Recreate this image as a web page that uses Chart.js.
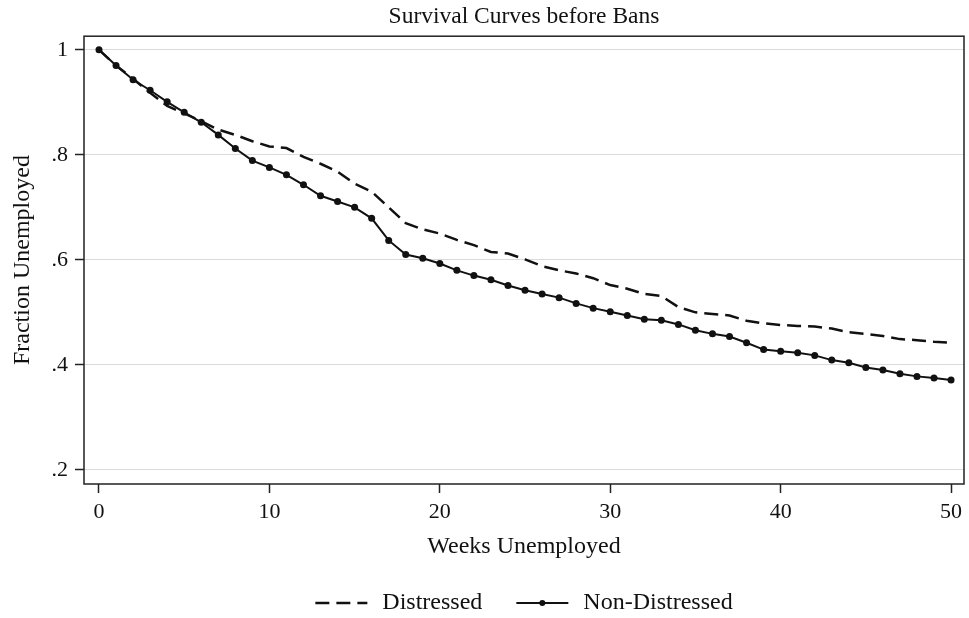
<!DOCTYPE html>
<html>
<head>
<meta charset="utf-8">
<title>Survival Curves before Bans</title>
<script src="https://cdn.jsdelivr.net/npm/chart.js@4"></script>
<style>
    html, body { margin: 0; padding: 0; background: #fff; overflow: hidden; }
    #wrap { width: 969px; height: 618px; }
</style>
</head>
<body>
<div id="wrap"><canvas id="survivalChart"></canvas></div>
<script>
// Weeks unemployed (x values)
const weeks = [0, 1, 2, 3, 4, 5, 6, 7, 8, 9, 10, 11, 12, 13, 14, 15, 16, 17, 18, 19, 20,
    21, 22, 23, 24, 25, 26, 27, 28, 29, 30, 31, 32, 33, 34, 35, 36, 37, 38, 39, 40,
    41, 42, 43, 44, 45, 46, 47, 48, 49, 50];

// Fraction still unemployed
const distressed = [1.000, 0.970, 0.945, 0.918, 0.893, 0.879, 0.864, 0.848, 0.838, 0.826, 0.816,
    0.813, 0.796, 0.783, 0.768, 0.745, 0.730, 0.700, 0.670, 0.658, 0.650,
    0.638, 0.628, 0.615, 0.612, 0.601, 0.588, 0.580, 0.574, 0.565, 0.552,
    0.545, 0.535, 0.531, 0.510, 0.500, 0.497, 0.494, 0.484, 0.479, 0.476,
    0.474, 0.473, 0.469, 0.462, 0.459, 0.455, 0.449, 0.447, 0.444, 0.442];

const nonDistressed = [1.000, 0.970, 0.943, 0.923, 0.901, 0.881, 0.862, 0.838, 0.812, 0.789, 0.776,
    0.762, 0.743, 0.722, 0.711, 0.700, 0.679, 0.637, 0.610, 0.603, 0.593,
    0.580, 0.570, 0.562, 0.551, 0.542, 0.535, 0.528, 0.517, 0.508, 0.501,
    0.494, 0.487, 0.485, 0.477, 0.466, 0.459, 0.454, 0.442, 0.429, 0.426,
    0.423, 0.418, 0.409, 0.404, 0.395, 0.390, 0.383, 0.378, 0.375, 0.371];

const xTicks = [0, 10, 20, 30, 40, 50];
const yTicks = [0.2, 0.4, 0.6, 0.8, 1];

const SERIF = '"Liberation Serif", "Times New Roman", serif';

function toPoints(values) {
    return weeks.map((w, i) => ({ x: w, y: values[i] }));
}

function yLabel(value) {
    if (value === 1) return '1';
    return value.toFixed(1).replace(/^0/, '');
}

// box round the plot region, Stata style
const framePlugin = {
    id: 'frame',
    beforeDatasetsDraw(chart) {
        const { ctx, chartArea } = chart;
        ctx.save();
        ctx.strokeStyle = '#222';
        ctx.lineWidth = 1.5;
        ctx.strokeRect(chartArea.left, chartArea.top,
            chartArea.right - chartArea.left, chartArea.bottom - chartArea.top);
        ctx.restore();
    }
};

// legend drawn by hand: line samples with text, centred under the plot
const lineLegendPlugin = {
    id: 'lineLegend',
    afterDraw(chart) {
        const { ctx, chartArea } = chart;
        const sampleLen = 52;
        const gap = 15;
        const spacing = 34;
        const y = 603;
        ctx.save();
        ctx.font = '24px ' + SERIF;
        ctx.textBaseline = 'middle';
        ctx.textAlign = 'left';
        const items = chart.data.datasets.map(ds => ({
            ds: ds,
            width: sampleLen + gap + ctx.measureText(ds.label).width
        }));
        const total = items.reduce((s, it) => s + it.width, 0) + spacing * (items.length - 1);
        let x = (chartArea.left + chartArea.right) / 2 - total / 2;
        items.forEach(it => {
            const ds = it.ds;
            ctx.strokeStyle = ds.borderColor;
            ctx.lineWidth = ds.borderWidth;
            ctx.setLineDash(ds.borderDash || []);
            ctx.beginPath();
            ctx.moveTo(x, y);
            ctx.lineTo(x + sampleLen, y);
            ctx.stroke();
            ctx.setLineDash([]);
            if (ds.pointRadius > 0) {
                ctx.fillStyle = ds.pointBackgroundColor;
                ctx.beginPath();
                ctx.arc(x + sampleLen / 2, y, ds.pointRadius - 0.5, 0, Math.PI * 2);
                ctx.fill();
            }
            ctx.fillStyle = '#111';
            ctx.fillText(ds.label, x + sampleLen + gap, y);
            x += it.width + spacing;
        });
        ctx.restore();
    }
};

const ctx = document.getElementById('survivalChart');

new Chart(ctx, {
    type: 'line',
    data: {
        datasets: [{
            label: 'Distressed',
            data: toPoints(distressed),
            borderColor: '#111',
            borderWidth: 2.5,
            borderDash: [14, 7],
            pointRadius: 0,
            pointBackgroundColor: '#111',
            tension: 0,
            fill: false
        }, {
            label: 'Non-Distressed',
            data: toPoints(nonDistressed),
            borderColor: '#111',
            borderWidth: 2,
            pointRadius: 3.5,
            pointBackgroundColor: '#111',
            pointBorderColor: '#111',
            pointBorderWidth: 0,
            tension: 0,
            fill: false
        }]
    },
    options: {
        responsive: true,
        maintainAspectRatio: false,
        animation: false,
        layout: {
            padding: { left: 0, right: 5, top: 0, bottom: 53 }
        },
        plugins: {
            legend: { display: false },
            tooltip: { enabled: false },
            title: {
                display: true,
                text: 'Survival Curves before Bans',
                fullSize: false,
                color: '#111',
                font: { family: SERIF, size: 23.5, weight: 'normal' },
                padding: { top: 3, bottom: 5 }
            }
        },
        scales: {
            x: {
                type: 'linear',
                min: -0.88,
                max: 50.76,
                afterBuildTicks: scale => {
                    scale.ticks = xTicks.map(v => ({ value: v }));
                },
                afterFit: scale => {
                    scale.height = 81;
                },
                grid: {
                    drawOnChartArea: false,
                    drawTicks: true,
                    tickLength: 9,
                    tickColor: '#222',
                    tickWidth: 1.5
                },
                border: { display: false },
                ticks: {
                    color: '#111',
                    padding: 6,
                    maxRotation: 0,
                    font: { family: SERIF, size: 22 }
                },
                title: {
                    display: true,
                    text: 'Weeks Unemployed',
                    color: '#111',
                    font: { family: SERIF, size: 24 },
                    padding: { top: 7, bottom: 4 }
                }
            },
            y: {
                type: 'linear',
                min: 0.173,
                max: 1.026,
                afterBuildTicks: scale => {
                    scale.ticks = yTicks.map(v => ({ value: v }));
                },
                afterFit: scale => {
                    scale.width = 84;
                },
                grid: {
                    color: '#dadada',
                    lineWidth: 1,
                    drawTicks: true,
                    tickLength: 9,
                    tickColor: '#222',
                    tickWidth: 1.5
                },
                border: { display: false },
                ticks: {
                    color: '#111',
                    padding: 7,
                    font: { family: SERIF, size: 22 },
                    callback: value => yLabel(value)
                },
                title: {
                    display: true,
                    text: 'Fraction Unemployed',
                    color: '#111',
                    font: { family: SERIF, size: 24 },
                    padding: { top: 8, bottom: 0 }
                }
            }
        }
    },
    plugins: [framePlugin, lineLegendPlugin]
});
</script>
</body>
</html>
